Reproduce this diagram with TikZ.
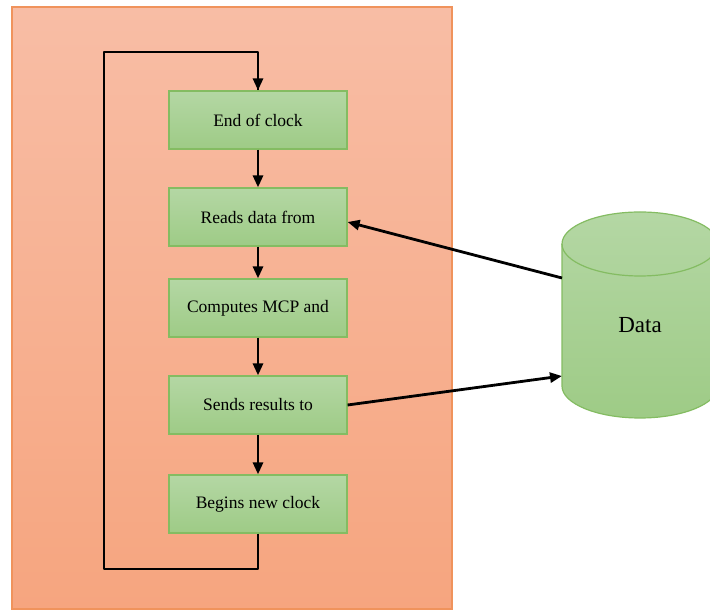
\documentclass[tikz,border=0pt]{standalone}
\usepackage{fontspec}
\setmainfont{Liberation Serif}
\usetikzlibrary{arrows.meta,calc}
\definecolor{panelTop}{HTML}{F8BDA5}
\definecolor{panelBot}{HTML}{F6A57F}
\definecolor{panelEdge}{HTML}{F0935C}
\definecolor{boxTop}{HTML}{B4D7A4}
\definecolor{boxBot}{HTML}{9ECB86}
\definecolor{boxEdge}{HTML}{84BC62}
\tikzset{
  stepbox/.style={draw=boxEdge, line width=1.2pt, top color=boxTop, bottom color=boxBot,
    minimum width=178pt, minimum height=58pt, inner sep=0pt,
    font=\fontsize{17.5}{20}\selectfont},
  flow/.style={line width=2.8pt, -{Triangle[length=12pt,width=10pt]}},
  plain/.style={line width=2.8pt, line join=round}
}
\begin{document}
\begin{tikzpicture}[x=1pt,y=1pt]
  \useasboundingbox (0,0) rectangle (710,610);
  \begin{scope}
    \clip (0,0) rectangle (710,610);
    % orange panel
    \draw[draw=panelEdge, line width=1.2pt, top color=panelTop, bottom color=panelBot]
      (12,1) rectangle (452,603);
    % data store cylinder
    \draw[draw=boxEdge, line width=1.2pt, top color=boxTop, bottom color=boxBot]
      (562,366) -- (562,224) arc[start angle=180, end angle=360, x radius=78, y radius=32]
      -- (718,366) arc[start angle=0, end angle=180, x radius=78, y radius=32] -- cycle;
    \draw[draw=boxEdge, line width=1.2pt]
      (562,366) arc[start angle=180, end angle=360, x radius=78, y radius=32];
  \end{scope}
  \node[font=\fontsize{23}{27}\selectfont] (data) at (640,285) {Data};
  \coordinate (dataIn) at (562,234);
  \coordinate (dataOut) at (562,332);

  % process steps
  \node[stepbox] (b1) at (258,490) {End of clock};
  \node[stepbox] (b2) at (258,393) {Reads data from};
  \node[stepbox] (b3) at (258,302) {Computes MCP and};
  \node[stepbox] (b4) at (258,205) {Sends results to};
  \node[stepbox] (b5) at (258,106) {Begins new clock};

  \draw[flow] (b1) -- (b2);
  \draw[flow] (b2) -- (b3);
  \draw[flow] (b3) -- (b4);
  \draw[flow] (b4) -- (b5);

  % loop back to the start
  \coordinate (loopBL) at (104,41);
  \coordinate (loopTL) at (104,558);
  \draw[plain] (b5.south) |- (loopBL) -- (loopTL) -| (b1.north);
  \draw[flow] ($(b1.north)+(0,28)$) -- (b1.north);

  % data exchange
  \draw[flow] (dataOut) -- ($(b2.east)+(0,-5)$);
  \draw[flow] (b4.east) -- (dataIn);
\end{tikzpicture}
\end{document}
